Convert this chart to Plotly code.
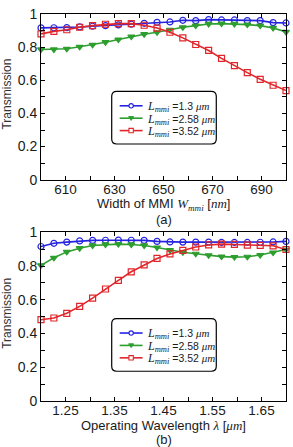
import plotly.graph_objects as go
from plotly.subplots import make_subplots

# ---------------- data ----------------
width_nm = [600, 605.26, 610.53, 615.79, 621.05, 626.32, 631.58, 636.84, 642.11, 647.37,
            652.63, 657.89, 663.16, 668.42, 673.68, 678.95, 684.21, 689.47, 694.74, 700]
a_L13 = [0.916, 0.917, 0.918, 0.922, 0.926, 0.93, 0.934, 0.938, 0.944, 0.95,
         0.952, 0.962, 0.96, 0.966, 0.964, 0.964, 0.96, 0.96, 0.948, 0.946]
a_L258 = [0.786, 0.786, 0.79, 0.802, 0.814, 0.83, 0.846, 0.864, 0.878, 0.89,
          0.905, 0.92, 0.93, 0.94, 0.942, 0.94, 0.936, 0.93, 0.916, 0.892]
a_L352 = [0.88, 0.895, 0.905, 0.92, 0.93, 0.938, 0.942, 0.942, 0.932, 0.915,
          0.89, 0.856, 0.816, 0.78, 0.732, 0.688, 0.646, 0.606, 0.57, 0.538]

wavelength_um = [1.2, 1.2263, 1.2526, 1.2789, 1.3053, 1.3316, 1.3579, 1.3842, 1.4105, 1.4368,
                 1.4632, 1.4895, 1.5158, 1.5421, 1.5684, 1.5947, 1.6211, 1.6474, 1.6737, 1.7]
b_L13 = [0.916, 0.935, 0.942, 0.949, 0.952, 0.953, 0.954, 0.953, 0.952, 0.946,
         0.943, 0.942, 0.942, 0.942, 0.940, 0.940, 0.940, 0.941, 0.943, 0.946]
b_L258 = [0.804, 0.849, 0.884, 0.906, 0.922, 0.928, 0.93, 0.928, 0.922, 0.91,
          0.894, 0.882, 0.873, 0.864, 0.856, 0.853, 0.855, 0.865, 0.88, 0.898]
b_L352 = [0.482, 0.492, 0.52, 0.561, 0.61, 0.664, 0.715, 0.766, 0.807, 0.845,
          0.872, 0.893, 0.913, 0.925, 0.93, 0.928, 0.924, 0.923, 0.92, 0.898]

series_names = ["1.3", "2.58", "3.52"]
x_ticks_a = [610, 630, 650, 670, 690]
x_ticks_b = [1.25, 1.35, 1.45, 1.55, 1.65]
x_text_b = ["1.25", "1.35", "1.45", "1.55", "1.65"]
y_ticks = [0, 0.2, 0.4, 0.6, 0.8, 1.0]
y_text = ["0", "0.2", "0.4", "0.6", "0.8", "1"]

# ---------------- style ----------------
W, H = 293, 447
ML, MR, MT, MB = 41, 6, 11, 46
PW, PH = W - ML - MR, H - MT - MB
colors = ["#2323e0", "#2e9e2e", "#e0262a"]
symbols = ["circle-open", "triangle-down", "square-open"]
SANS = "Liberation Sans, Arial, sans-serif"
TXT = "#1a1a1a"


def px(xp):
    return (xp - ML) / PW


def py(yp):
    return (H - MB - yp) / PH


top_dom = [py(178), 1.0]
bot_dom = [0.0, py(231)]

fig = make_subplots(rows=2, cols=1, vertical_spacing=0.1)

for row, xs, group in [(1, width_nm, [a_L13, a_L258, a_L352]),
                       (2, wavelength_um, [b_L13, b_L258, b_L352])]:
    for i, ys in enumerate(group):
        fig.add_trace(go.Scatter(
            x=xs, y=ys, mode="lines+markers", name=series_names[i],
            line=dict(color=colors[i], width=1.6),
            marker=dict(symbol=symbols[i], size=6, color=colors[i],
                        line=dict(color=colors[i], width=1.2)),
            showlegend=False, cliponaxis=False), row=row, col=1)

axis_common = dict(showline=True, linecolor="black", linewidth=1, mirror="allticks",
                   ticks="inside", ticklen=4, tickcolor="black", tickwidth=1,
                   showgrid=False, zeroline=False,
                   tickfont=dict(family=SANS, size=14, color=TXT))
xfont = dict(family=SANS, size=13.5, color=TXT)

fig.update_xaxes(range=[600, 700], tickvals=x_ticks_a, domain=[0, 1], **axis_common,
                 minor=dict(ticks="inside", ticklen=4, tickcolor="black", dtick=10, tick0=600,
                            showgrid=False),
                 row=1, col=1)
fig.update_xaxes(range=[1.2, 1.7], tickvals=x_ticks_b, ticktext=x_text_b, domain=[0, 1],
                 **axis_common,
                 minor=dict(ticks="inside", ticklen=4, tickcolor="black", dtick=0.05, tick0=1.2,
                            showgrid=False),
                 row=2, col=1)
for r, dom in [(1, top_dom), (2, bot_dom)]:
    fig.update_yaxes(range=[0, 1], tickvals=y_ticks, ticktext=y_text, domain=dom,
                     **axis_common,
                     minor=dict(ticks="inside", ticklen=4, tickcolor="black", dtick=0.1, tick0=0,
                                showgrid=False),
                     row=r, col=1)
fig.update_xaxes(tickfont=xfont, ticklabelstandoff=-3)

annotations = []
shapes = []


def label(text, xp, yp, size=13, angle=0, xanchor="center", color=TXT):
    annotations.append(dict(text=text, x=px(xp), y=py(yp), xref="paper", yref="paper",
                            showarrow=False, textangle=angle, xanchor=xanchor,
                            yanchor="middle",
                            font=dict(family=SANS, size=size, color=color)))


label("Transmission", 7, 92, size=12, angle=-90, color="#333333")
label("Transmission", 7, 313, size=12, angle=-90, color="#333333")
label("Width of MMI <span style='font-family:Liberation Serif'><i>W</i></span>"
      "<sub><span style='font-family:Liberation Serif'><i>mmi</i></span></sub> "
      "[<span style='font-family:Liberation Serif'><i>nm</i></span>]", 164, 203, size=13)
label("(a)", 164, 218, size=13)
label("Operating Wavelength <span style='font-family:Liberation Serif'><i>λ</i></span> "
      "[<span style='font-family:Liberation Serif'><i>μm</i></span>]", 164, 425.5, size=13)
label("(b)", 164, 440, size=13)


def rounded_box(x0, y0, x1, y1, r=5):
    X0, X1 = px(x0), px(x1)
    Y0, Y1 = py(y0), py(y1)
    rx, ry = r / PW, r / PH
    path = (f"M {X0+rx},{Y0} L {X1-rx},{Y0} Q {X1},{Y0} {X1},{Y0-ry} "
            f"L {X1},{Y1+ry} Q {X1},{Y1} {X1-rx},{Y1} "
            f"L {X0+rx},{Y1} Q {X0},{Y1} {X0},{Y1+ry} "
            f"L {X0},{Y0-ry} Q {X0},{Y0} {X0+rx},{Y0} Z")
    shapes.append(dict(type="path", path=path, xref="paper", yref="paper",
                       line=dict(color="black", width=1.2), fillcolor="white", layer="above"))


ROW = 12.5


def legend(top):
    rounded_box(112, top, 217, top + 53)
    lines = []
    for i in range(3):
        yc = top + 14.5 + ROW * i
        shapes.append(dict(type="line", xref="paper", yref="paper",
                           x0=px(120), x1=px(143), y0=py(yc), y1=py(yc),
                           line=dict(color=colors[i], width=1.6), layer="above"))
        cx, s = 131.5, 2.2
        if i == 0:
            shapes.append(dict(type="circle", xref="paper", yref="paper",
                               x0=px(cx - s), x1=px(cx + s), y0=py(yc + s), y1=py(yc - s),
                               line=dict(color=colors[i], width=1.1), fillcolor="white",
                               layer="above"))
        elif i == 1:
            p = (f"M {px(cx-s-0.3)},{py(yc-s+0.6)} L {px(cx+s+0.3)},{py(yc-s+0.6)} "
                 f"L {px(cx)},{py(yc+s)} Z")
            shapes.append(dict(type="path", path=p, xref="paper", yref="paper",
                               line=dict(color=colors[i], width=1), fillcolor=colors[i],
                               layer="above"))
        else:
            shapes.append(dict(type="rect", xref="paper", yref="paper",
                               x0=px(cx - s), x1=px(cx + s), y0=py(yc + s), y1=py(yc - s),
                               line=dict(color=colors[i], width=1.1), fillcolor="white",
                               layer="above"))
        lines.append(
            f"<span style='font-family:Liberation Serif;font-size:12px'><i>L</i></span>"
            f"<sub><span style='font-family:Liberation Serif;font-size:8.5px'><i>mmi</i></span></sub>"
            f"<span style='font-size:10.5px'> ={series_names[i]} </span>"
            f"<span style='font-family:Liberation Serif;font-size:11px'><i>μm</i></span>")
    annotations.append(dict(text="<br>".join(lines), x=px(145), y=py(top + 14.5 + ROW + 0.5),
                            xref="paper", yref="paper", showarrow=False,
                            xanchor="left", yanchor="middle", align="left",
                            font=dict(family=SANS, size=ROW / 1.3, color=TXT)))


legend(89)
legend(318)

fig.update_layout(width=W, height=H, margin=dict(l=ML, r=MR, t=MT, b=MB),
                  paper_bgcolor="white", plot_bgcolor="white",
                  annotations=annotations, shapes=shapes, showlegend=False)

fig.write_html("out.html")
